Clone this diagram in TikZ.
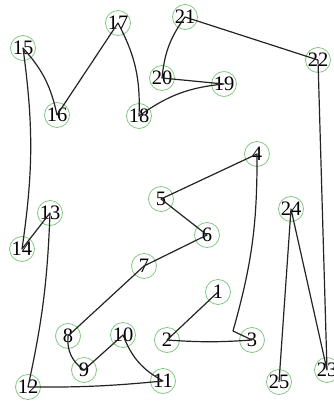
\documentclass[tikz,border=0pt]{standalone}
\usepackage{fontspec}
\setmainfont{Liberation Serif}
\usepackage{tikz}

\definecolor{ringgreen}{RGB}{130,200,130}
\definecolor{pen}{RGB}{35,35,35}

\begin{document}
\begin{tikzpicture}[
    x=1pt, y=-1pt,
    stop/.style={draw=ringgreen, line width=0.8pt, circle, minimum size=25pt, inner sep=0pt, font=\fontsize{20.5}{20.5}\selectfont},
    trail/.style={draw=pen, line width=1.2pt, line join=round}
]
\useasboundingbox (0,0) rectangle (333,405);

% numbered stops
\foreach \n/\x/\y in {1/218/292, 2/167/340, 3/252/340, 4/257/154, 5/161/199,
    6/207/235, 7/144/266, 8/68/336, 9/84/370, 10/123/335, 11/163/381,
    12/28/387, 13/50/213, 14/22/249, 15/23/48, 16/57/115, 17/118/23,
    18/139/116, 19/224/84, 20/162/78, 21/185/17, 22/318/60, 23/327/370,
    24/291/209, 25/279/382}
    \node[stop] (p\n) at (\x,\y) {\n};

\coordinate (kink3) at (233,331);

% the trail through the stops
\draw[trail] (p1.center) -- (p2.center) to[bend right=4] (p3.center)
    -- (kink3) to[bend right=8] (p4.center) -- (p5.center) -- (p6.center)
    -- (p7.center) -- (p8.center) to[bend right=30] (p9.center)
    -- (p10.center) to[bend right=20] (p11.center) to[bend left=3] (p12.center)
    to[bend right=5] (p13.center) -- (p14.center) to[bend right=8] (p15.center)
    to[bend left=15] (p16.center) -- (p17.center) to[bend left=15] (p18.center)
    to[bend left=15] (p19.center) -- (p20.center) to[bend left=15] (p21.center)
    -- (p22.center) -- (p23.center) -- (p24.center) -- (p25.center);
\end{tikzpicture}
\end{document}
